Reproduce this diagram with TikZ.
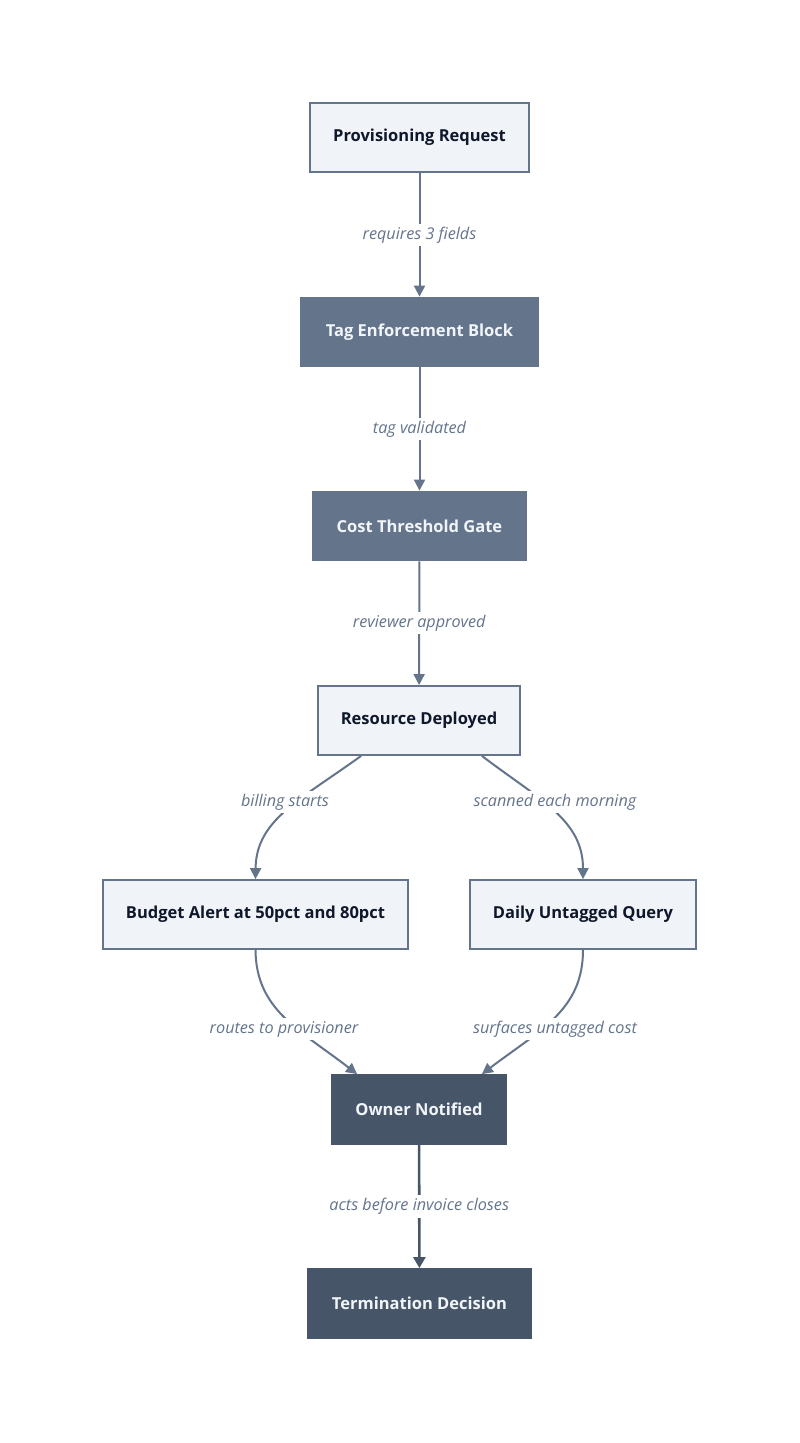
\documentclass[tikz,border=0pt]{standalone}
\usepackage{fontspec}
\setmainfont{Open Sans}
\usetikzlibrary{arrows.meta}
\definecolor{lightfill}{HTML}{F0F3F8}
\definecolor{slateline}{HTML}{64748B}
\definecolor{slatemid}{HTML}{64748B}
\definecolor{slatedark}{HTML}{475569}
\definecolor{inktext}{HTML}{0F172A}
\definecolor{paletext}{HTML}{F1F5F9}
\begin{document}
\begin{tikzpicture}[x=1pt,y=1pt,
lightbox/.style={draw=slateline,line width=1.8pt,fill=lightfill,text=inktext,minimum height=69pt,font=\fontsize{16.5}{19}\selectfont\bfseries},
midbox/.style={draw=slatemid,line width=1.8pt,fill=slatemid,text=paletext,minimum height=69pt,font=\fontsize{16.5}{19}\selectfont\bfseries},
darkbox/.style={draw=slatedark,line width=1.8pt,fill=slatedark,text=paletext,minimum height=69pt,font=\fontsize{16.5}{19}\selectfont\bfseries},
flow/.style={draw=slateline,line width=2pt,-{Triangle[length=11pt,width=11pt]}},
lastflow/.style={draw=slatedark,line width=2.6pt,-{Triangle[length=11pt,width=12pt]}},
edgetext/.style={fill=white,text=slateline,inner sep=3pt,font=\fontsize{16.2}{19}\selectfont\itshape}]
\useasboundingbox (0,0) rectangle (800,-1443);
\node [lightbox,minimum width=219pt] (req) at (419.5,-137.5) {Provisioning Request};
\node [midbox,minimum width=237pt] (tag) at (419.5,-332) {Tag Enforcement Block};
\node [midbox,minimum width=213pt] (gate) at (419.5,-526) {Cost Threshold Gate};
\node [lightbox,minimum width=202pt] (depl) at (419,-720.5) {Resource Deployed};
\node [lightbox,minimum width=305pt] (budget) at (255.5,-914.5) {Budget Alert at 50pct and 80pct};
\node [lightbox,minimum width=226pt] (query) at (583,-914.5) {Daily Untagged Query};
\node [darkbox,minimum width=174pt] (owner) at (419,-1109.5) {Owner Notified};
\node [darkbox,minimum width=223pt] (term) at (419.5,-1303.5) {Termination Decision};
\draw [flow] (req) -- node [edgetext] (lreq) {requires 3 fields} (tag);
\draw [flow] (tag) -- node [edgetext] (ltag) {tag validated} (gate);
\draw [flow] (gate) -- node [edgetext] (lgate) {reviewer approved} (depl);
\draw [flow] ([xshift=44pt]depl.south west) .. controls (300,-800) and (256,-820) .. (budget.north);
\node [edgetext] (lbill) at (285,-802) {billing starts};
\draw [flow] ([xshift=-39pt]depl.south east) .. controls (540,-800) and (583,-820) .. (query.north);
\node [edgetext] (lscan) at (555,-802) {scanned each morning};
\draw [flow] (budget.south) .. controls (256,-1010) and (300,-1030) .. ([xshift=26pt]owner.north west);
\node [edgetext] (lroute) at (284,-1029) {routes to provisioner};
\draw [flow] (query.south) .. controls (583,-1010) and (540,-1030) .. ([xshift=-25pt]owner.north east);
\node [edgetext] (lsurf) at (555,-1029) {surfaces untagged cost};
\draw [lastflow] (owner) -- node [edgetext] (lowner) {acts before invoice closes} (term);
\end{tikzpicture}
\end{document}
